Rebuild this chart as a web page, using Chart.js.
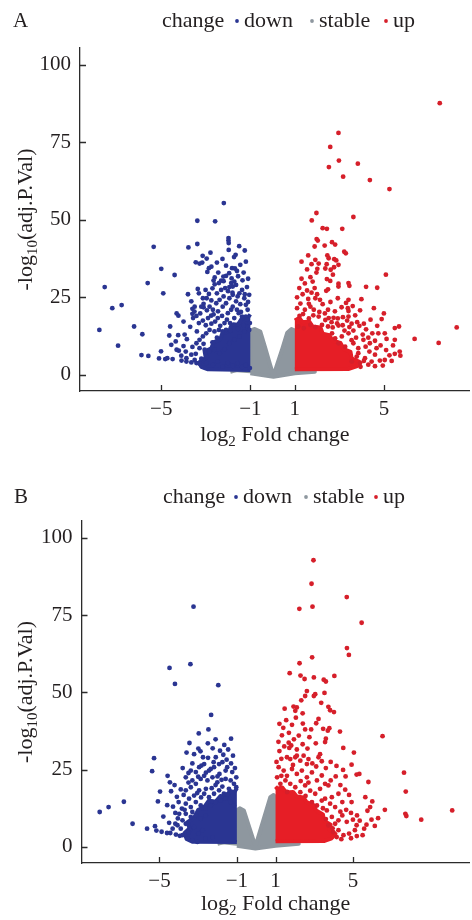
<!DOCTYPE html>
<html><head><meta charset="utf-8">
<script src="https://cdn.jsdelivr.net/npm/chart.js@4.4.1/dist/chart.umd.min.js"></script>
<style>
html,body{margin:0;padding:0;background:#fff;overflow:hidden;width:472px;height:920px}
canvas{display:block;position:absolute;left:0}
#cA{top:0}
#cB{top:472px}
</style></head><body>
<canvas id="cA" width="472" height="472"></canvas>
<canvas id="cB" width="472" height="448"></canvas>
<script>
// ---------- data ----------
const categories = ['down', 'stable', 'up'];
const legendTitle = 'change';
const panelLabels = ['A', 'B'];
const xTicks = [-5, -1, 1, 5];
const yTicks = [0, 25, 50, 75, 100];

// Panel A: individual significant genes [log2FC, -log10 adj.P]
const downA = [[-2.19,55.4],[-3.38,49.7],[-2.58,49.5],[-1.98,44.1],[-1.98,43.3],[-1.97,42.5],[-5.34,41.3],[-3.78,41.1],[-3.38,42.2],[-1.97,40.3],[-2.79,39.4],[-3.14,38.4],[-2.96,37.5],[-1.66,38.7],[-1.73,38.0],[-3.45,36.3],[-3.28,35.9],[-3.16,36.2],[-2.75,34.9],[-2.86,34.4],[-2.93,33.2],[-5.0,34.2],[-2.09,35.2],[-1.82,34.4],[-1.69,34.3],[-4.40,32.2],[-2.44,33.0],[-2.21,31.7],[-2.09,31.9],[-1.84,31.1],[-5.61,29.6],[-7.54,28.3],[-3.36,27.7],[-4.91,26.3],[-2.31,27.4],[-2.13,28.0],[-1.94,28.3],[-1.79,28.5],[-1.64,29.0],[-2.96,24.7],[-2.75,24.0],[-3.10,22.9],[-3.10,21.8],[-7.2,21.5],[-6.78,22.5],[-4.31,19.8],[-4.23,19.1],[-3.60,21.3],[-3.60,19.7],[-3.51,20.4],[-6.22,15.6],[-7.78,14.5],[-5.85,13.1],[-4.64,12.7],[-4.24,12.8],[-6.94,9.4],[-4.55,9.7],[-5.89,6.4],[-5.58,6.1],[-5.01,7.6],[-5.10,5.3],[-4.82,5.1],[-4.73,5.4],[-4.49,5.1],[-4.31,8.1],[-4.21,7.8],[-4.09,4.6],[-3.87,4.3],[-3.65,4.0],[-3.42,3.8],[-3.28,3.6],
[-3.57,18.3],[-3.42,19.0],[-3.31,16.7],[-3.13,17.5],[-2.90,18.3],[-2.76,19.1],[-2.58,17.2],[-2.46,18.3],[-2.27,19.0],[-2.16,16.7],[-2.01,19.9],[-1.86,21.0],[-1.79,22.0],[-1.64,23.7],[-1.57,25.3],[-1.49,26.3],[-1.37,27.4],[-1.27,24.7],[-1.20,22.6],[-1.12,21.0],[-1.20,18.8],[-1.37,18.8],[-1.52,19.9],[-1.72,18.3],[-1.91,16.7],[-2.09,14.5],[-2.24,14.0],[-2.41,14.5],[-2.61,14.0],[-2.83,14.5],[-2.98,13.4],[-3.13,12.4],[-3.28,11.3],[-3.42,10.2],[-3.28,8.6],[-3.05,8.1],[-2.83,7.5],[-2.61,8.1],[-2.38,7.0],[-2.16,8.3],[-1.94,10.2],[-1.72,11.3],[-1.49,12.4],[-1.27,14.0],[-1.12,15.6],[-1.02,16.7],[-2.83,22.0],[-2.68,21.0],[-2.53,23.1],[-2.38,24.2],[-2.24,22.0],[-2.09,23.1],[-1.94,24.7],[-1.79,25.8],[-1.72,30.1],[-1.86,29.6],[-2.31,30.4],[-2.41,29.6],[-2.65,30.4],[-2.86,26.1],[-3.01,27.4],[-3.13,24.7],[-3.31,26.3],[-3.20,22.0],[-3.65,23.7],[-3.50,22.0],
[-3.87,5.4],[-3.65,6.5],[-3.50,4.8],[-2.98,3.8],[-2.68,3.2],[-2.46,4.3],[-2.24,2.7],[-2.01,3.8],[-1.79,2.9],[-1.57,3.8],[-1.37,2.5],[-1.20,3.2],[-1.02,2.2],
[-1.1,23.5],[-1.25,26.0],[-1.45,22.8],[-1.6,21.0],[-1.05,25.8],[-1.15,28.3],[-1.35,30.5],[-1.55,31.8],[-1.1,31.0],[-1.3,33.0],[-1.45,35.5],[-1.2,36.5],[-1.8,26.5],[-2.0,27.0],[-2.2,25.3],[-2.5,26.3],[-2.7,27.9],[-2.45,20.5],[-2.65,19.5],[-2.95,20.8],[-3.25,19.8],[-3.0,16.0],[-2.75,16.5],[-2.35,15.8],[-1.9,14.2],[-1.55,14.8],[-1.3,16.0],[-1.15,17.8],[-1.05,14.5],[-3.4,14.0],[-3.7,15.5],[-3.85,11.5],[-3.6,9.0],[-3.9,7.5],[-4.1,6.2],[-3.45,6.8],[-3.2,5.2],[-2.95,5.8],[-2.7,10.5],[-2.5,12.0],[-3.1,10.0],[-2.05,17.8],[-1.75,16.2],[-1.42,20.3],[-4.6,15.6],[-4.0,17.2],[-3.8,26.0],[-3.95,13.0],[-4.35,10.8],[-4.0,9.3],[-2.6,29.2],[-2.2,30.2],[-1.95,32.8],[-1.6,33.5],[-1.25,40.1],[-1.5,41.5],[-2.5,36.2],[-2.25,37.4],[-2.6,31.4]];

const upA = [[7.51,87.6],[2.96,78.0],[2.59,73.5],[2.98,69.1],[3.83,68.1],[2.53,67.0],[3.17,63.9],[4.37,62.8],[5.25,59.9],[1.97,52.2],[3.63,50.9],[1.76,49.8],[2.25,47.3],[2.44,47.1],[3.13,47.1],[1.98,43.8],[2.03,43.3],[2.67,42.8],[2.81,42.0],[1.89,41.4],[2.34,41.7],[3.22,39.7],[3.29,39.2],[2.46,38.5],[2.52,37.6],[1.92,37.1],[2.77,37.3],[2.86,36.9],[1.75,35.7],[2.07,35.9],[2.43,35.7],[2.96,35.5],[2.01,34.2],[2.37,34.3],[2.76,34.7],[1.97,33.0],[2.61,33.9],[5.09,32.3],[2.71,32.3],[2.44,30.9],[2.59,30.3],[1.80,30.1],[2.96,29.4],[3.41,29.6],[3.45,28.7],[4.20,28.4],[4.70,28.1],[1.55,27.2],[1.89,28.0],[2.41,27.1],[2.49,27.6],[2.96,28.5],[1.92,24.7],[2.13,24.2],[2.93,24.7],[3.41,24.2],[3.99,24.4],[1.63,22.9],[1.70,22.0],[2.49,21.0],[3.38,21.5],[3.41,20.6],[3.93,20.8],[5.00,19.8],[1.21,19.0],[1.37,19.6],[1.63,18.2],[1.83,19.2],[2.07,18.8],[2.37,17.7],[2.52,18.3],[2.74,18.4],[2.93,18.2],[3.16,18.6],[3.41,18.8],[3.71,19.2],[1.15,15.6],[1.40,15.1],[1.70,16.1],[1.92,15.4],[2.22,16.1],[2.49,15.6],[2.70,15.3],[2.96,15.9],[3.23,14.3],[3.45,15.4],[3.63,14.3],[4.20,14.7],[4.48,13.4],[5.49,15.1],[5.68,15.6],[8.27,15.3],[6.38,11.6],[7.46,10.3],[4.75,13.4],[5.04,13.4],[5.12,11.6],[5.49,11.3],[5.41,9.5],[5.71,7.5],[5.74,6.2],[5.49,6.8],[5.04,4.8],[4.82,4.6],[4.67,8.6],[4.37,10.2],[4.08,11.3],[3.85,8.6],[4.18,9.1],[3.63,10.2],[3.41,13.4],[3.11,12.4],[3.78,5.9],[4.15,5.4],[4.45,4.3],[4.60,6.5],[3.93,3.8],[3.56,4.3],[3.26,9.1],[2.96,10.2],[2.81,11.8],[2.67,13.4],
[1.1,21.5],[1.25,23.0],[1.45,21.0],[1.6,24.5],[1.35,26.0],[1.1,25.0],[1.2,28.0],[1.45,29.5],[1.7,31.5],[1.3,31.0],[1.55,34.0],[1.3,36.5],[1.6,38.5],[1.75,26.5],[2.0,26.0],[2.25,22.8],[2.6,23.5],[2.8,20.5],[3.1,21.8],[3.3,23.2],[3.6,22.2],[3.8,17.0],[3.55,16.5],[3.9,15.8],[4.05,13.0],[4.3,12.0],[4.1,16.5],[4.4,17.8],[4.6,11.0],[4.85,9.5],[5.1,8.0],[5.25,6.3],[5.35,4.5],[4.95,3.0],[4.6,2.8],[4.3,3.3],[3.95,2.6],[4.7,15.8],[4.9,18.0],[4.55,21.5],[3.75,12.0],[3.55,11.2],[3.85,7.0],[4.35,7.5],[4.1,4.5],[1.85,21.0],[2.1,20.3],[2.35,19.8],[2.65,17.0],[2.9,16.6],[3.15,16.0],[3.35,17.5]];

// Panel A: outlines of the dense, fully overlapping clouds
const coreDownA = [[-1.0,1.6],[-2.9,1.8],[-3.2,2.6],[-3.3,4.0],[-3.0,5.5],[-3.05,7.5],[-2.75,8.6],[-2.65,10.5],[-2.35,11.5],[-2.25,13.5],[-1.95,14.0],[-1.85,16.0],[-1.55,16.3],[-1.4,18.0],[-1.15,18.1],[-1.0,19.5]];
const coreUpA = [[1.0,1.8],[3.4,1.9],[3.8,2.8],[3.9,4.2],[3.55,5.3],[3.5,7.4],[3.2,8.3],[3.05,10.3],[2.7,11.0],[2.55,12.8],[2.25,13.3],[2.15,15.3],[1.8,15.6],[1.65,17.2],[1.35,17.0],[1.2,18.3],[1.0,17.5]];
const stableA = [[-1.9,1.0],[-1.5,1.8],[-1.0,2.2],[-1.0,14.3],[-0.8,14.8],[-0.55,14.0],[-0.32,8.5],[-0.12,3.5],[0.04,-0.3],[0.21,3.5],[0.44,8.5],[0.66,13.6],[0.85,14.8],[1.0,14.3],[1.0,2.2],[1.5,1.8],[1.9,1.0],[1.0,0.5],[0.04,-0.6],[-1.0,0.5]];

// Panel B
const downB = [[-3.24,77.7],[-3.40,59.1],[-4.48,57.9],[-4.20,52.7],[-1.96,52.3],[-2.33,42.7],[-2.47,38.0],[-2.97,36.7],[-3.45,33.6],[-2.25,31.9],[-1.87,31.1],[-2.99,31.8],[-2.88,30.9],[-3.21,30.0],[-5.28,28.7],[-2.83,26.3],[-2.49,28.8],[-1.53,28.2],[-1.75,27.4],[-2.18,25.8],[-5.38,24.5],[-3.50,23.9],[-4.58,23.0],[-4.46,20.9],[-4.22,20.0],[-4.97,17.9],[-5.08,14.7],[-6.84,14.6],[-7.63,12.9],[-8.09,11.3],[-4.18,11.0],[-6.39,7.5],[-5.64,5.9],[-5.23,6.7],[-5.16,5.3],[-4.89,4.9],[-4.61,4.5],[-4.44,4.5],[-4.07,7.0],[-3.90,5.9],[-3.81,3.8],
[-3.64,18.3],[-3.38,19.3],[-3.12,20.4],[-2.87,22.0],[-2.69,23.0],[-2.52,21.5],[-2.26,22.5],[-2.01,20.9],[-1.79,21.7],[-1.58,22.0],[-1.32,21.5],[-1.15,20.4],[-1.03,19.3],[-1.24,17.7],[-1.41,18.8],[-1.67,17.2],[-1.92,18.3],[-2.18,17.2],[-2.44,16.1],[-2.69,17.2],[-2.95,18.3],[-3.21,16.6],[-3.47,15.6],[-3.64,14.0],[-3.38,12.9],[-3.12,14.5],[-2.87,13.4],[-2.61,12.4],[-2.35,13.4],[-2.10,14.5],[-1.84,15.0],[-1.58,15.6],[-1.32,14.5],[-1.15,13.4],[-3.64,10.7],[-3.38,9.7],[-3.12,10.2],[-2.87,9.1],[-2.61,10.2],[-3.64,7.5],[-3.43,5.4],[-3.21,6.4],[-2.99,4.3],[-2.78,5.4],[-3.55,2.7],[-3.29,2.2],[-3.04,1.6],[-2.61,2.7],[-2.26,3.2],[-3.81,8.6],[-3.98,10.7],[-3.84,12.4],[-4.01,14.5],[-4.18,7.5],[-4.32,5.9],[-2.95,25.8],[-2.69,26.8],[-3.12,24.2],[-3.38,24.7],[-3.64,22.5],[-2.75,29.0],[-2.09,29.0],[-1.92,26.8],[-1.58,24.7],[-1.24,24.2],[-1.03,22.5],[-2.44,24.7],
[-1.1,25.5],[-1.3,27.0],[-1.5,25.8],[-1.2,29.5],[-1.45,31.5],[-1.65,33.0],[-1.9,23.6],[-2.1,20.0],[-2.3,19.0],[-2.6,18.8],[-2.85,16.0],[-3.05,17.4],[-3.3,21.5],[-3.5,20.8],[-3.75,16.8],[-3.9,18.6],[-4.1,16.2],[-4.3,13.0],[-4.05,9.2],[-3.95,3.6],[-4.15,4.0],[-1.2,16.5],[-1.5,17.0],[-1.75,19.5],[-2.0,22.8],[-2.35,25.2],[-2.6,24.0],[-3.0,22.7],[-3.3,27.0],[-2.2,27.4],[-1.7,29.8],[-2.5,33.5],[-2.1,34.8],[-1.3,35.0],[-3.6,30.5],[-3.8,25.5],[-4.4,18.0],[-4.6,13.5],[-4.8,9.8],[-4.5,7.8],[-3.7,12.0],[-3.5,4.6],[-3.3,11.3]];

const upB = [[2.96,92.7],[2.86,85.1],[4.68,80.8],[2.23,77.0],[2.91,77.7],[5.45,72.5],[4.69,64.3],[4.79,62.1],[2.89,61.3],[2.24,59.4],[1.73,56.2],[2.29,55.4],[2.50,54.3],[2.98,54.8],[3.49,54.1],[3.60,53.5],[4.04,55.3],[2.62,50.4],[2.53,48.8],[2.98,48.8],[3.05,49.4],[3.53,49.8],[2.33,47.4],[3.36,46.6],[1.47,44.7],[1.93,45.4],[2.02,44.0],[2.10,45.1],[3.73,45.3],[3.82,44.2],[4.02,43.6],[2.05,41.8],[3.22,41.4],[2.41,39.9],[2.53,38.0],[2.84,38.0],[3.46,38.2],[3.70,37.6],[3.78,38.4],[4.33,37.3],[1.33,36.1],[1.69,36.9],[6.53,35.8],[1.68,33.7],[1.81,32.8],[1.71,32.0],[2.40,33.2],[2.65,31.8],[3.08,33.5],[3.56,33.9],[3.60,35.0],[1.59,29.0],[1.76,28.4],[2.02,29.0],[2.10,29.5],[2.28,27.9],[2.70,28.4],[3.22,29.0],[3.30,30.0],[3.39,27.7],[2.62,26.8],[4.93,26.6],[4.49,24.9],[4.11,22.8],[4.62,22.8],[5.19,23.4],[5.33,23.6],[7.64,24.0],[7.73,17.9],[5.64,16.1],[6.65,12.0],[7.71,10.7],[7.76,10.0],[8.53,8.8],[10.13,11.8],[5.89,12.9],[5.96,8.8],[5.70,7.2],[6.13,6.8],[5.58,5.9],[5.19,7.0],[5.10,5.4],[4.80,4.3],[4.68,8.1],[4.93,14.5],[5.21,10.2],[4.45,10.2],[4.08,12.9],[3.91,16.1],[4.25,17.2],[3.73,19.9],
[1.16,25.8],[1.42,24.7],[1.59,23.0],[1.85,25.2],[2.10,23.6],[2.36,24.7],[2.62,22.5],[2.88,24.1],[3.14,21.5],[3.39,23.1],[3.56,20.4],[3.30,18.8],[3.05,17.2],[2.79,18.2],[2.53,19.9],[2.28,17.7],[2.02,19.3],[1.76,20.4],[1.51,21.5],[1.25,20.4],[1.08,22.5],[3.56,15.6],[3.82,14.0],[3.65,11.8],[3.91,9.7],[4.08,7.5],[4.25,5.4],[4.51,3.8],[4.16,3.2],[3.98,4.8],[4.25,8.6],[3.73,7.0],[3.39,15.0],[3.14,13.4],[2.88,14.5],
[1.05,27.5],[1.3,28.5],[1.2,31.0],[1.45,32.5],[1.15,34.0],[1.4,38.5],[1.55,41.0],[1.85,39.5],[2.2,36.0],[2.1,31.5],[1.9,26.5],[2.45,29.5],[2.9,27.0],[3.1,26.0],[3.6,25.5],[3.85,27.5],[4.15,26.2],[4.35,20.0],[4.6,18.5],[4.8,16.8],[4.45,14.5],[4.65,12.0],[4.9,11.0],[5.0,8.8],[5.35,8.5],[5.5,3.8],[5.2,3.5],[4.9,2.8],[4.4,2.5],[3.85,21.5],[2.7,20.8],[2.3,21.3],[1.3,23.0],[1.6,17.8],[2.55,16.5],[3.45,12.5],[3.6,9.0],[4.35,11.4],[3.95,6.0],[1.95,34.8],[2.75,35.5],[3.1,40.0],[2.4,43.2],[1.2,39.8],[4.5,32.0],[5.05,30.5],[5.8,21.0],[6.0,14.7],[6.3,9.3],[5.75,11.7]];

const coreDownB = [[-1.0,1.6],[-3.3,1.7],[-3.6,2.6],[-3.7,4.5],[-3.45,6.0],[-3.55,8.0],[-3.2,9.5],[-3.0,12.0],[-2.7,12.8],[-2.45,15.0],[-2.1,14.6],[-1.85,16.5],[-1.55,16.2],[-1.35,18.2],[-1.15,17.5],[-1.0,19.0]];
const coreUpB = [[1.0,1.8],[3.5,1.9],[3.9,2.8],[4.1,4.2],[3.8,5.5],[3.85,7.2],[3.5,8.5],[3.45,10.5],[3.1,11.8],[2.95,13.6],[2.6,14.5],[2.45,16.0],[2.1,16.3],[1.9,17.8],[1.55,17.6],[1.35,19.2],[1.1,18.8],[1.0,19.5]];
const stableB = [[-2.0,1.0],[-1.5,1.8],[-1.0,2.5],[-1.0,11.8],[-0.85,12.5],[-0.64,11.8],[-0.34,6],[-0.04,0.2],[0.34,8],[0.73,16.1],[0.9,16.8],[1.0,16.1],[1.0,2.3],[1.6,1.8],[2.2,1.0],[1.0,0.4],[-0.04,-0.5],[-1.0,0.4]];

// ---------- styling ----------
const COL = { down: '#2a3592', stable: '#8e979f', up: '#d61f2a', upCore: '#e61e26' };
const FONT = 'Liberation Serif';
const INK = '#231f20';
Chart.defaults.font.family = FONT;
Chart.defaults.color = INK;

const toXY = arr => arr.map(p => ({ x: p[0], y: p[1] }));

function polygon(data, color, order) {
  return { type: 'line', data: toXY(data), fill: 'shape', backgroundColor: color, borderColor: color,
    borderWidth: 4, borderJoinStyle: 'round', pointRadius: 0, tension: 0, order };
}
function points(label, data, color) {
  return { type: 'scatter', label, data: toXY(data), backgroundColor: color, borderWidth: 0,
    pointRadius: 2.4, pointHoverRadius: 2.4, order: 1 };
}

function drawParts(ctx, parts, x, y, align) {
  const big = '22px "' + FONT + '"', small = '15px "' + FONT + '"';
  let w = 0;
  parts.forEach(p => { ctx.font = p[1] ? small : big; w += ctx.measureText(p[0]).width; });
  let cx = align === 'center' ? x - w / 2 : x;
  ctx.textAlign = 'left'; ctx.textBaseline = 'alphabetic';
  parts.forEach(p => {
    ctx.font = p[1] ? small : big;
    ctx.fillText(p[0], cx, y + (p[1] ? 4.5 : 0));
    cx += ctx.measureText(p[0]).width;
  });
}

const decor = {
  id: 'decor',
  afterDraw(chart, args, o) {
    const ctx = chart.ctx, xs = chart.scales.x, ys = chart.scales.y, a = chart.chartArea;
    ctx.save();
    ctx.strokeStyle = '#2b2b2b'; ctx.lineWidth = 1.3;
    ctx.beginPath();
    xs.ticks.forEach(t => { const p = Math.round(xs.getPixelForValue(t.value)) + 0.5; ctx.moveTo(p, a.bottom); ctx.lineTo(p, a.bottom - 6); });
    ys.ticks.forEach(t => { const p = Math.round(ys.getPixelForValue(t.value)) + 0.5; ctx.moveTo(a.left, p); ctx.lineTo(a.left + 6, p); });
    ctx.stroke();
    ctx.fillStyle = INK;
    ctx.font = '21px "' + FONT + '"'; ctx.textAlign = 'left'; ctx.textBaseline = 'alphabetic';
    ctx.fillText(o.letter, o.letterX, o.legendY);
    ctx.font = '22px "' + FONT + '"';
    ctx.fillText(legendTitle, o.legendX, o.legendY);
    categories.forEach((c, i) => {
      ctx.fillStyle = COL[c];
      ctx.beginPath(); ctx.arc(o.dotX[i], o.legendY - 6, 1.9, 0, Math.PI * 2); ctx.fill();
      ctx.fillStyle = INK;
      ctx.fillText(c, o.dotX[i] + 7, o.legendY);
    });
    drawParts(ctx, [['log', 0], ['2', 1], [' Fold change', 0]], (a.left + a.right) / 2, o.xTitleY, 'center');
    ctx.translate(o.yTitleX, (a.top + a.bottom) / 2);
    ctx.rotate(-Math.PI / 2);
    drawParts(ctx, [['-log', 0], ['10', 1], ['(adj.P.Val)', 0]], 0, 0, 'center');
    ctx.restore();
  }
};

function makeChart(id, down, up, coreDown, coreUp, stable, xMin, xMax, yAxisW, topPad, canvasH, dec) {
  new Chart(document.getElementById(id), {
    type: 'scatter',
    data: { datasets: [
      points(categories[0], down, COL.down),
      points(categories[2], up, COL.up),
      polygon(coreDown, COL.down, 2),
      polygon(coreUp, COL.upCore, 2),
      polygon(stable, COL.stable, 3)
    ]},
    options: {
      responsive: false, animation: false, devicePixelRatio: 1,
      layout: { padding: { top: topPad, right: 0, left: 0, bottom: 0 } },
      plugins: { legend: { display: false }, tooltip: { enabled: false }, decor: dec },
      scales: {
        x: { type: 'linear', min: xMin, max: xMax,
          afterBuildTicks: s => { s.ticks = xTicks.map(v => ({ value: v })); },
          afterFit: s => { s.height = canvasH - 391; },
          grid: { drawOnChartArea: false, drawTicks: false },
          border: { display: true, color: '#2b2b2b', width: 1.3 },
          ticks: { padding: 6, font: { size: 21 }, color: INK, maxRotation: 0, autoSkip: false,
            callback: v => String(v).replace('-', '\u2212') } },
        y: { type: 'linear', min: -5.2, max: 105.4,
          afterBuildTicks: s => { s.ticks = yTicks.map(v => ({ value: v })); },
          afterFit: s => { s.width = yAxisW; },
          grid: { drawOnChartArea: false, drawTicks: false },
          border: { display: true, color: '#2b2b2b', width: 1.3 },
          ticks: { padding: 9, font: { size: 21 }, color: INK, autoSkip: false } }
      }
    },
    plugins: [decor]
  });
}

makeChart('cA', downA, upA, coreDownA, coreUpA, stableA, -8.65, 8.85, 80, 48, 472,
  { letter: panelLabels[0], letterX: 13, legendX: 162, legendY: 27, dotX: [237, 312, 386], xTitleY: 441, yTitleX: 32 });
makeChart('cB', downB, upB, coreDownB, coreUpB, stableB, -9.03, 11.03, 81.5, 49, 448,
  { letter: panelLabels[1], letterX: 14, legendX: 163, legendY: 31, dotX: [236, 306, 376], xTitleY: 438, yTitleX: 32 });
</script>
</body></html>
